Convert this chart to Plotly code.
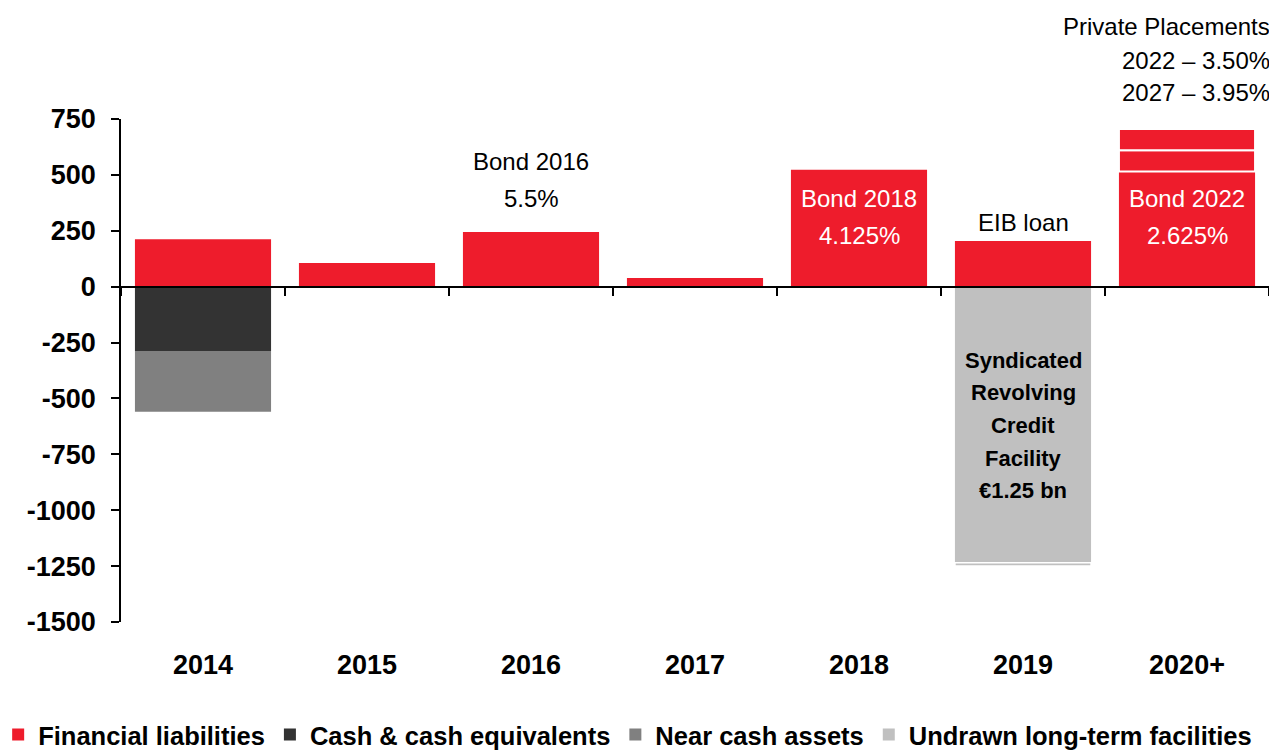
import plotly.graph_objects as go

categories = ["2014", "2015", "2016", "2017", "2018", "2019", "2020+"]
financial_liabilities = [212, 106, 245, 39, 523, 204, 515]
private_placement_2022 = [None, None, None, None, None, None, 95]
private_placement_2027 = [None, None, None, None, None, None, 95]
cash_equivalents = [-288, None, None, None, None, None, None]
near_cash_assets = [-271, None, None, None, None, None, None]
undrawn_facilities = [None, None, None, None, None, -1235, None]
undrawn_facilities_tail = [None, None, None, None, None, -15, None]

y_ticks = [750, 500, 250, 0, -250, -500, -750, -1000, -1250, -1500]

RED = "#EE1C2C"
DARK = "#333333"
MID = "#808080"
LIGHT = "#C0C0C0"
FONT = "Liberation Sans, Arial, sans-serif"

fig = go.Figure()
fig.add_bar(x=categories, y=financial_liabilities, name="Financial liabilities",
            marker=dict(color=RED, line=dict(width=0)))
fig.add_bar(x=categories, y=private_placement_2022, name="PP 2022", showlegend=False,
            marker=dict(color=RED, line=dict(color="white", width=2)))
fig.add_bar(x=categories, y=private_placement_2027, name="PP 2027", showlegend=False,
            marker=dict(color=RED, line=dict(color="white", width=2)))
fig.add_bar(x=categories, y=cash_equivalents, name="Cash & cash equivalents",
            marker=dict(color=DARK, line=dict(width=0)))
fig.add_bar(x=categories, y=near_cash_assets, name="Near cash assets",
            marker=dict(color=MID, line=dict(width=0)))
fig.add_bar(x=categories, y=undrawn_facilities, name="Undrawn long-term facilities",
            marker=dict(color=LIGHT, line=dict(width=0)))
fig.add_bar(x=categories, y=undrawn_facilities_tail, name="Undrawn tail", showlegend=False,
            marker=dict(color=LIGHT, line=dict(color="white", width=1.5)))

# helper axis drawn at y = 0 with ticks on category boundaries
fig.add_scatter(x=categories, y=[None] * len(categories), xaxis="x2", mode="markers",
                showlegend=False, hoverinfo="skip")

y_min, y_max = y_ticks[-1], y_ticks[0]
zero_pos = (0 - y_min) / (y_max - y_min)

fig.update_layout(
    width=1277, height=751,
    margin=dict(l=113, r=16, t=111, b=137, autoexpand=False),
    paper_bgcolor="white", plot_bgcolor="white",
    barmode="relative", bargap=0.17,
    font=dict(family=FONT, color="black"),
    showlegend=True,
    legend=dict(orientation="h", x=-0.107, xanchor="left", y=-0.2246, yanchor="middle",
                font=dict(family=FONT, size=25.5, weight="bold", color="black"),
                traceorder="normal", itemclick=False, itemdoubleclick=False),
    xaxis=dict(type="category", categoryorder="array", categoryarray=categories,
               range=[-0.5, len(categories) - 0.5],
               showline=False, ticks="", showgrid=False, zeroline=False,
               tickfont=dict(family=FONT, size=27, weight="bold", color="black"),
               ticklabelstandoff=24),
    xaxis2=dict(type="category", categoryorder="array", categoryarray=categories,
                overlaying="x", anchor="free", position=zero_pos,
                range=[-0.5, len(categories) - 0.5],
                showline=True, linecolor="black", linewidth=2,
                ticks="outside", tickson="boundaries", ticklen=8, tickwidth=1.5,
                tickcolor="black", showticklabels=False, showgrid=False, zeroline=False),
    yaxis=dict(range=[y_min, y_max], tickmode="array", tickvals=y_ticks,
               ticktext=[str(v) for v in y_ticks],
               showline=True, linecolor="black", linewidth=1.5,
               ticks="outside", ticklen=8, tickwidth=1.5, tickcolor="black",
               showgrid=False, zeroline=False,
               tickfont=dict(family=FONT, size=27, weight="bold", color="black"),
               ticklabelstandoff=10),
)


def add_lines(x, y, lines, shifts, color="black", size=24, bold=False, xref="x",
              xanchor="center", xshift=0):
    for text, s in zip(lines, shifts):
        fig.add_annotation(x=x, y=y, xref=xref, yref="y", text=text, showarrow=False,
                           xanchor=xanchor, yanchor="middle", yshift=s, xshift=xshift,
                           font=dict(family=FONT, size=size, color=color,
                                     weight="bold" if bold else "normal"))


def idx(cat):
    return categories.index(cat)


add_lines(idx("2016"), financial_liabilities[idx("2016")], ["Bond 2016", "5.5%"], [70, 33])
add_lines(idx("2018"), financial_liabilities[idx("2018")], ["Bond 2018", "4.125%"], [-29, -66],
          color="white")
add_lines(idx("2019"), financial_liabilities[idx("2019")], ["EIB loan"], [19])
add_lines(idx("2020+"), financial_liabilities[idx("2020+")], ["Bond 2022", "2.625%"], [-27, -64],
          color="white")
total_2020 = (financial_liabilities[idx("2020+")] + private_placement_2022[idx("2020+")]
              + private_placement_2027[idx("2020+")])
add_lines(1, total_2020, ["Private Placements", "2022 – 3.50%", "2027 – 3.95%"],
          [103, 69, 37], xref="paper", xanchor="right", xshift=3)
add_lines(idx("2019"), 0, ["Syndicated", "Revolving", "Credit", "Facility", "€1.25 bn"],
          [-74, -106, -139, -172, -204], size=22, bold=True)

fig.write_html("out.html")
